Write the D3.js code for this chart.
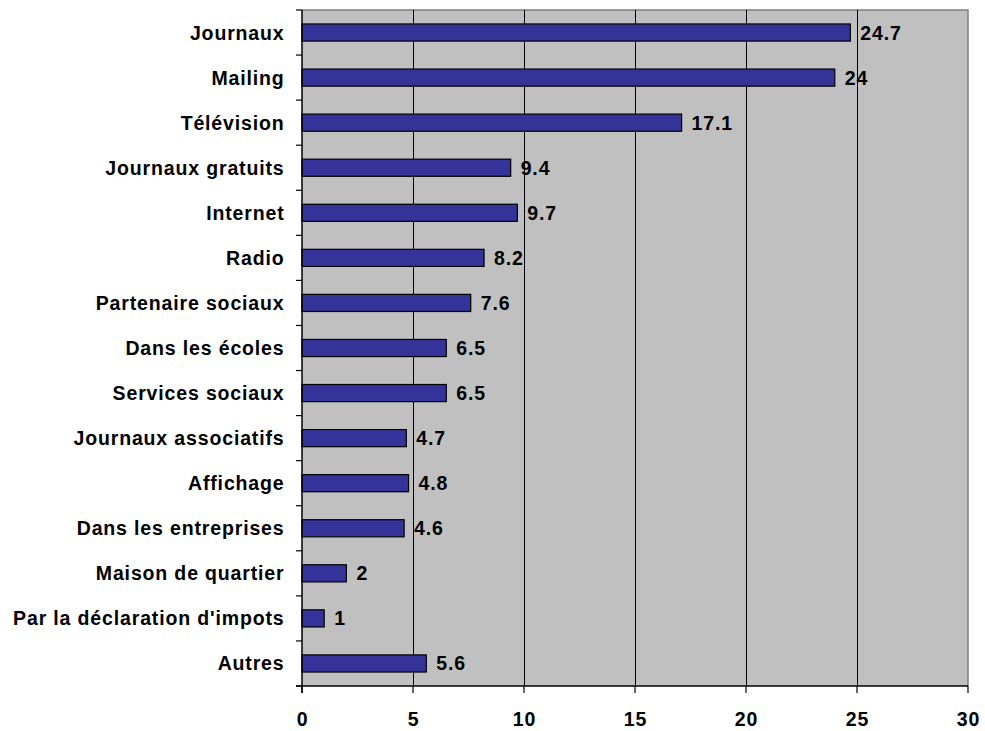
<!DOCTYPE html>
<html><head><meta charset="utf-8">
<script src="https://cdn.jsdelivr.net/npm/d3@7"></script>
<style>body{margin:0;background:#fff}svg text{font-family:Arial,"Liberation Sans",sans-serif;font-weight:bold;fill:#000;font-size:19.5px;letter-spacing:0.85px}</style>
</head><body><svg id="c" width="985" height="731"></svg>
<script>
const categories = ["Journaux","Mailing","Télévision","Journaux gratuits","Internet","Radio","Partenaire sociaux","Dans les écoles","Services sociaux","Journaux associatifs","Affichage","Dans les entreprises","Maison de quartier","Par la déclaration d'impots","Autres"];
const values = [24.7,24,17.1,9.4,9.7,8.2,7.6,6.5,6.5,4.7,4.8,4.6,2,1,5.6];
const xTicks = [0,5,10,15,20,25,30];

const svg = d3.select("#c");
const L=302, R=968, T=10, B=686;
const x = d3.scaleLinear().domain([0,30]).range([L,R]);
const y = d3.scaleBand().domain(categories).range([T,B]).paddingInner(0.62).paddingOuter(0.31);
const yb = d3.scaleBand().domain(categories).range([T,B]);

svg.append("rect").attr("x",L).attr("y",T).attr("width",R-L).attr("height",B-T).attr("fill","#c0c0c0");
svg.append("path").attr("d",`M${L},${T}H${R}V${B}`).attr("fill","none").attr("stroke","#808080").attr("stroke-width",1.5);
svg.selectAll(".grid").data(xTicks.slice(1,-1)).join("line")
  .attr("x1",d=>Math.round(x(d))+0.5).attr("x2",d=>Math.round(x(d))+0.5).attr("y1",T).attr("y2",B)
  .attr("stroke","#000").attr("stroke-width",1);

svg.selectAll(".bar").data(values).join("rect")
  .attr("x",x(0)).attr("y",(d,i)=>y(categories[i]))
  .attr("width",d=>x(d)-x(0)).attr("height",y.bandwidth())
  .attr("fill","#333399").attr("stroke","#000").attr("stroke-width",1.2);

svg.selectAll(".val").data(values).join("text")
  .attr("x",d=>x(d)+10).attr("y",(d,i)=>y(categories[i])+y.bandwidth()/2).attr("dy","0.36em")
  .text(d=>d);

// y axis
const gy = svg.append("g");
gy.append("line").attr("x1",L).attr("x2",L).attr("y1",T).attr("y2",B+7).attr("stroke","#000").attr("stroke-width",1.5);
const bounds = categories.map(c=>yb(c)).concat([B]);
gy.selectAll(".yt").data(bounds).join("line").attr("x1",L-6).attr("x2",L).attr("y1",d=>d).attr("y2",d=>d).attr("stroke","#000").attr("stroke-width",1.2);
gy.selectAll(".yl").data(categories).join("text")
  .attr("x",284.5).attr("y",d=>y(d)+y.bandwidth()/2).attr("dy","0.36em").attr("text-anchor","end")
  .text(d=>d);

// x axis
const gx = svg.append("g");
gx.append("line").attr("x1",L-6).attr("x2",R).attr("y1",B).attr("y2",B).attr("stroke","#000").attr("stroke-width",1.5);
gx.selectAll(".xt").data(xTicks).join("line").attr("x1",d=>x(d)).attr("x2",d=>x(d)).attr("y1",B).attr("y2",B+7).attr("stroke","#000").attr("stroke-width",1.2);
gx.selectAll(".xl").data(xTicks).join("text").attr("x",d=>x(d)+0.5).attr("y",726).attr("text-anchor","middle")
  .text(d=>d);
</script></body></html>
